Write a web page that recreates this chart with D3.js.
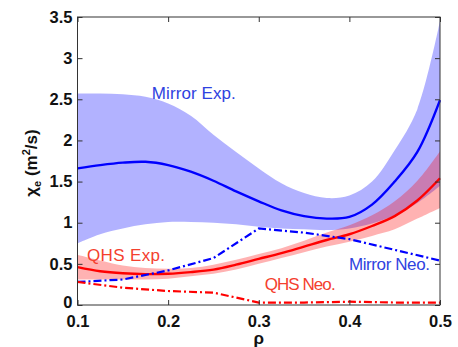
<!DOCTYPE html>
<html><head><meta charset="utf-8">
<script src="https://cdn.jsdelivr.net/npm/d3@7/dist/d3.min.js"></script>
<style>body{margin:0;background:#fff}svg{display:block}text{font-family:"Liberation Sans",Arial,sans-serif}</style>
</head><body><svg id="c" width="458" height="347"></svg>
<script>
const rho = [0.1,0.125,0.15,0.175,0.2,0.225,0.25,0.275,0.3,0.325,0.35,0.375,0.4,0.425,0.45,0.475,0.5];
const mirrorExp   = [1.66,1.70,1.73,1.74,1.70,1.62,1.51,1.38,1.26,1.15,1.08,1.05,1.07,1.22,1.50,1.86,2.49];
const mirrorUpper = [2.57,2.57,2.56,2.53,2.45,2.30,2.07,1.86,1.66,1.48,1.36,1.30,1.33,1.50,1.88,2.38,3.45];
const mirrorLower = [0.75,0.86,0.93,0.98,1.01,1.01,1.00,0.98,0.95,0.93,0.92,0.91,0.93,0.99,1.09,1.24,1.45];
const qhsExp   = [0.46,0.41,0.385,0.375,0.38,0.40,0.43,0.49,0.56,0.63,0.71,0.79,0.86,0.96,1.08,1.27,1.54];
const qhsUpper = [0.61,0.54,0.48,0.45,0.44,0.45,0.49,0.55,0.62,0.69,0.78,0.88,0.97,1.09,1.26,1.51,1.87];
const qhsLower = [0.31,0.31,0.31,0.31,0.32,0.35,0.38,0.43,0.50,0.57,0.64,0.71,0.77,0.84,0.92,1.05,1.18];
const rhoNeo = [0.1,0.15,0.2,0.25,0.3,0.35,0.4,0.45,0.5];
const mirrorNeo = [0.28,0.31,0.42,0.57,0.93,0.88,0.80,0.67,0.54];
const qhsNeo    = [0.28,0.21,0.17,0.15,0.03,0.03,0.04,0.03,0.03];
const xTicks = [0.1,0.2,0.3,0.4,0.5];
const yTicks = [0,0.5,1,1.5,2,2.5,3,3.5];
const labels = [
  {text:"Mirror Exp.", x:0.182, y:2.5, color:"#2f42e0", len:84},
  {text:"QHS Exp.", x:0.1105, y:0.53, color:"#f4402e", len:78},
  {text:"QHS Neo.", x:0.3065, y:0.18, color:"#f4402e", len:71},
  {text:"Mirror Neo.", x:0.3995, y:0.425, color:"#2f42e0", len:81}
];

const W=458,H=347, m={l:77.5,r:18,t:17,b:42};
const svg=d3.select("#c");
const x=d3.scaleLinear().domain([0.1,0.5]).range([m.l,W-m.r]);
const y=d3.scaleLinear().domain([0,3.5]).range([H-m.b,m.t]);
const smooth=d3.curveCatmullRom.alpha(0.5);

const band=(lo,hi)=>d3.area().x((d,i)=>x(rho[i])).y0((d,i)=>y(lo[i])).y1((d,i)=>y(hi[i])).curve(smooth)(rho);
const line=(xs,vs,c)=>d3.line().x((d,i)=>x(xs[i])).y((d,i)=>y(vs[i])).curve(c)(xs);

svg.append("path").attr("d",band(mirrorLower,mirrorUpper)).attr("fill","rgb(0,0,255)").attr("fill-opacity",0.3);
svg.append("path").attr("d",band(qhsLower,qhsUpper)).attr("fill","rgb(255,0,0)").attr("fill-opacity",0.3);

svg.append("path").attr("d",line(rho,mirrorExp,smooth)).attr("fill","none").attr("stroke","#0000ff").attr("stroke-width",2.4);
svg.append("path").attr("d",line(rho,qhsExp,smooth)).attr("fill","none").attr("stroke","#ff0000").attr("stroke-width",2.4);
svg.append("path").attr("d",line(rhoNeo,mirrorNeo,d3.curveLinear)).attr("fill","none").attr("stroke","#0000ff").attr("stroke-width",2.2).attr("stroke-dasharray","8,3,2,3");
svg.append("path").attr("d",line(rhoNeo,qhsNeo,d3.curveLinear)).attr("fill","none").attr("stroke","#ff0000").attr("stroke-width",2.2).attr("stroke-dasharray","8,3,2,3");

// box
svg.append("rect").attr("x",x(0.1)).attr("y",y(3.5)).attr("width",x(0.5)-x(0.1)).attr("height",y(0)-y(3.5)).attr("fill","none").attr("stroke","#333").attr("stroke-width",1);

const fmt=d=>String(d);
const gl=svg.append("g").attr("transform",`translate(${x(0.1)},0)`).call(d3.axisLeft(y).tickValues(yTicks).tickFormat(fmt).tickSizeInner(-5).tickSizeOuter(0).tickPadding(5));
const gb=svg.append("g").attr("transform",`translate(0,${y(0)})`).call(d3.axisBottom(x).tickValues(xTicks).tickFormat(d3.format(".1f")).tickSizeInner(-5).tickSizeOuter(0).tickPadding(5));
const gr=svg.append("g").attr("transform",`translate(${x(0.5)},0)`).call(d3.axisRight(y).tickValues(yTicks).tickFormat("").tickSizeInner(-5).tickSizeOuter(0));
const gt=svg.append("g").attr("transform",`translate(0,${y(3.5)})`).call(d3.axisTop(x).tickValues(xTicks).tickFormat("").tickSizeInner(-5).tickSizeOuter(0));
[gl,gb,gr,gt].forEach(g=>{g.select(".domain").remove();g.selectAll(".tick line").attr("stroke","#333");});
[gl,gb].forEach(g=>g.selectAll(".tick text").attr("font-family","Liberation Sans, Arial, sans-serif").attr("font-size",16.5).attr("font-weight","bold").attr("fill","#111"));
gb.selectAll(".tick text").attr("dy","1.0em");
gl.selectAll(".tick text").filter(d=>d===0).attr("dy","0.15em");

labels.forEach(l=>{
  svg.append("text").attr("x",x(l.x)).attr("y",y(l.y)).attr("fill",l.color).attr("font-size",17)
    .attr("textLength",l.len).attr("lengthAdjust","spacing").text(l.text);
});

svg.append("text").attr("x",(x(0.1)+x(0.5))/2).attr("y",344).attr("text-anchor","middle").attr("font-size",17).attr("font-weight","bold").attr("fill","#111").text("ρ");

const yl=svg.append("text").attr("transform","translate(37,163) rotate(-90)").attr("text-anchor","middle").attr("font-size",17).attr("fill","#111").attr("font-weight","bold");
yl.append("tspan").text("χ");
yl.append("tspan").attr("font-size",11).attr("dy",4).text("e");
yl.append("tspan").attr("dy",-4).text(" (m");
yl.append("tspan").attr("font-size",11).attr("dy",-7).text("2");
yl.append("tspan").attr("dy",7).text("/s)");
</script></body></html>
